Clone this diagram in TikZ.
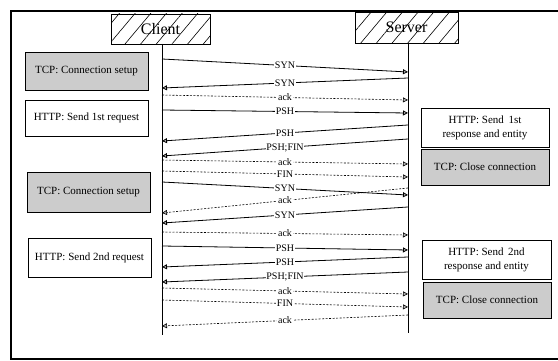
\documentclass[tikz,border=0pt]{standalone}
\usepackage{fontspec}
\setmainfont{Liberation Serif}
\usetikzlibrary{arrows.meta,patterns.meta}
\tikzset{
  frameline/.style={line width=1.1pt},
  actor/.style={draw, line width=0.8pt, minimum width=100pt, minimum height=31pt, inner sep=0pt,
    pattern={Lines[angle=50,distance=12pt,line width=0.6pt]}, font=\fontsize{16}{18}\selectfont},
  actorlabel/.style={font=\fontsize{16}{18}\selectfont, inner sep=1pt},
  lifeline/.style={line width=0.8pt},
  graybox/.style={draw, line width=0.8pt, fill=gray!40, inner sep=0pt, font=\fontsize{11}{13}\selectfont},
  whitebox/.style={draw, line width=0.8pt, fill=white, inner sep=0pt, align=center, font=\fontsize{11}{14}\selectfont},
  tip/.style={-{Triangle[length=5pt,width=5pt,fill=gray!60]}},
  msg/.style={line width=0.8pt, tip},
  dmsg/.style={line width=0.6pt, dash pattern=on 2pt off 1.5pt, tip},
  lbl/.style={midway, fill=white, inner sep=0.6pt, font=\fontsize{10}{12}\selectfont}
}
\begin{document}
\begin{tikzpicture}[x=1pt,y=-1pt]
\useasboundingbox (0,0) rectangle (558,361);
% frame
\coordinate (f1) at (558,11);
\coordinate (f2) at (11,11);
\coordinate (f3) at (11,359);
\coordinate (f4) at (558,359);
\draw[frameline] (f1) -- (f2) -- (f3) -- (f4);
% actors
\node[actor, minimum width=99pt, minimum height=30pt] (client) at (160.5,29) {};
\node[actorlabel] at (client) {Client};
\node[actor, minimum width=103pt, minimum height=31pt] (server) at (406.5,27.5) {};
\node[actorlabel] at (server) {Server};
% lifelines
\coordinate (ctop) at (162,44);
\coordinate (cend) at (162,335);
\coordinate (stop) at (408,43);
\coordinate (send) at (408,333);
\draw[lifeline] (ctop) -- (cend);
\draw[lifeline] (stop) -- (send);
% side boxes
\node[graybox, minimum width=123pt, minimum height=38pt] (l1) at (86.5,71) {TCP: Connection setup};
\node[whitebox, minimum width=123pt, minimum height=36pt] (l2) at (86.5,118) {HTTP: Send 1st request};
\node[graybox, minimum width=123pt, minimum height=40pt] (l3) at (88.5,192) {TCP: Connection setup};
\node[whitebox, minimum width=123pt, minimum height=39pt] (l4) at (89.5,257.5) {HTTP: Send 2nd request};
\node[whitebox, minimum width=128pt, minimum height=39pt] (r1) at (485,127.5) {HTTP: Send \,1st\\response and entity};
\node[graybox, minimum width=128pt, minimum height=36pt] (r2) at (485,167) {TCP: Close connection};
\node[whitebox, minimum width=129pt, minimum height=39pt] (r3) at (486.5,259.5) {HTTP: Send \,2nd\\response and entity};
\node[graybox, minimum width=128pt, minimum height=36pt] (r4) at (487,300) {TCP: Close connection};
% messages
\coordinate (c1) at (162,59);  \coordinate (s1) at (408,72);
\coordinate (c2) at (162,88);  \coordinate (s2) at (408,78);
\coordinate (c3) at (162,95);  \coordinate (s3) at (408,100);
\coordinate (c4) at (162,110); \coordinate (s4) at (408,113);
\coordinate (c5) at (162,141); \coordinate (s5) at (408,125);
\coordinate (c6) at (162,156); \coordinate (s6) at (408,139);
\coordinate (c7) at (162,160); \coordinate (s7) at (408,164);
\coordinate (c8) at (162,171); \coordinate (s8) at (408,177);
\coordinate (c9) at (162,182); \coordinate (s9) at (408,195);
\coordinate (c10) at (162,213); \coordinate (s10) at (408,188);
\coordinate (c11) at (162,223); \coordinate (s11) at (408,207);
\coordinate (c12) at (162,232); \coordinate (s12) at (408,235);
\coordinate (c13) at (162,246); \coordinate (s13) at (408,250);
\coordinate (c14) at (162,267); \coordinate (s14) at (408,257);
\coordinate (c15) at (162,282); \coordinate (s15) at (408,272);
\coordinate (c16) at (162,288); \coordinate (s16) at (408,294);
\coordinate (c17) at (162,300); \coordinate (s17) at (408,307);
\coordinate (c18) at (162,326); \coordinate (s18) at (408,315);
\draw[msg]  (c1) -- node[lbl]{SYN} (s1);
\draw[msg]  (s2) -- node[lbl]{SYN} (c2);
\draw[dmsg] (c3) -- node[lbl]{ack} (s3);
\draw[msg]  (c4) -- node[lbl]{PSH} (s4);
\draw[msg]  (s5) -- node[lbl]{PSH} (c5);
\draw[msg]  (s6) -- node[lbl]{PSH;FIN} (c6);
\draw[dmsg] (c7) -- node[lbl]{ack} (s7);
\draw[dmsg] (c8) -- node[lbl]{FIN} (s8);
\draw[msg]  (c9) -- node[lbl]{SYN} (s9);
\draw[dmsg] (s10) -- node[lbl]{ack} (c10);
\draw[msg]  (s11) -- node[lbl]{SYN} (c11);
\draw[dmsg] (c12) -- node[lbl]{ack} (s12);
\draw[msg]  (c13) -- node[lbl]{PSH} (s13);
\draw[msg]  (s14) -- node[lbl]{PSH} (c14);
\draw[msg]  (s15) -- node[lbl]{PSH;FIN} (c15);
\draw[dmsg] (c16) -- node[lbl]{ack} (s16);
\draw[dmsg] (c17) -- node[lbl]{FIN} (s17);
\draw[dmsg] (s18) -- node[lbl]{ack} (c18);
\end{tikzpicture}
\end{document}
